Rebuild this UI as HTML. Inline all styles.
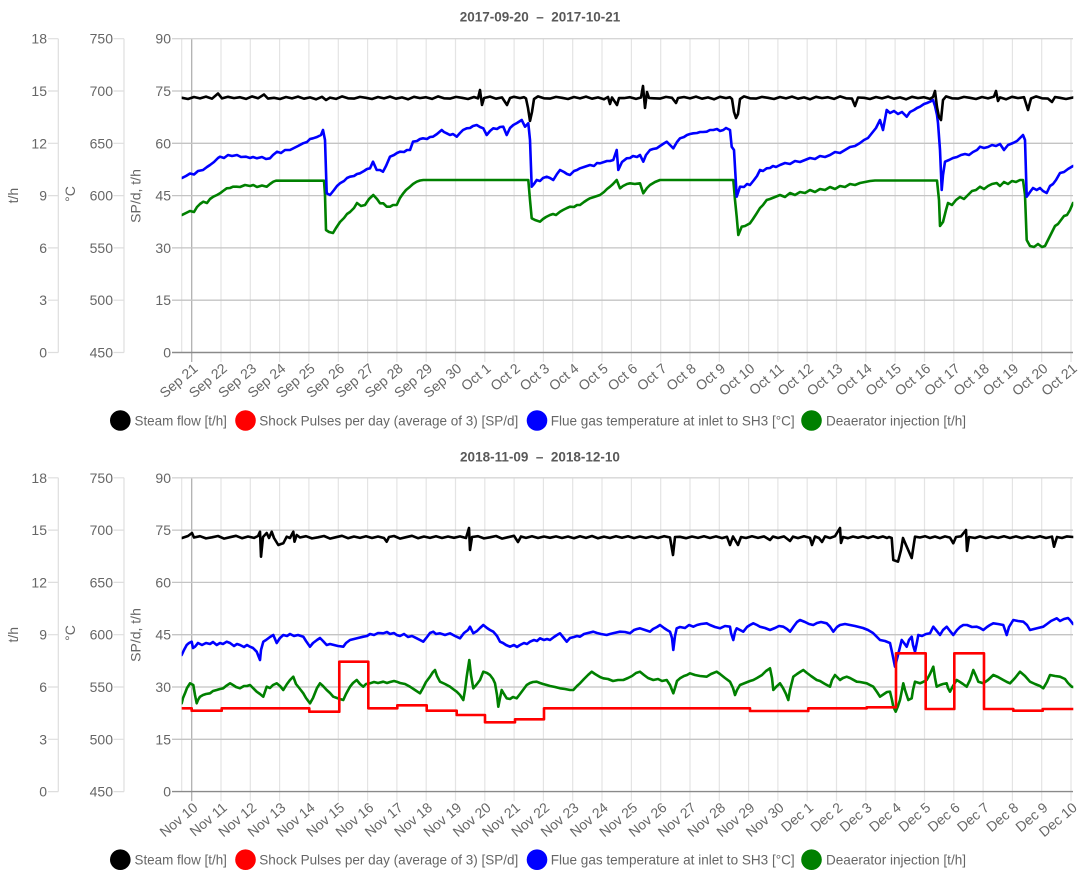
<!DOCTYPE html>
<html><head><meta charset="utf-8"><style>
html,body{margin:0;padding:0;background:#fff;}
svg{display:block;font-family:"Liberation Sans",Arial,sans-serif;}
.yl{font-size:14px;fill:#666;text-anchor:end;}
.xl{font-size:14px;fill:#666;text-anchor:end;}
.at{font-size:14px;fill:#666;text-anchor:middle;}
.lg{font-size:14px;fill:#666;}
.ti{font-size:13.5px;font-weight:bold;fill:#595959;text-anchor:middle;}
.s{fill:none;stroke-width:2.6;stroke-linejoin:round;stroke-linecap:round;}
</style></head><body>
<svg width="1080" height="878" viewBox="0 0 1080 878" xmlns="http://www.w3.org/2000/svg">
<defs>
<g id="grid">
  <line x1="58.3" y1="38.7" x2="58.3" y2="352.5" stroke="#dedede" stroke-width="1.2"/>
  <line x1="124" y1="38.7" x2="124" y2="352.5" stroke="#dedede" stroke-width="1.2"/>
  <path d="M48 38.7H58.3M48 91H58.3M48 143.3H58.3M48 195.6H58.3M48 247.9H58.3M48 300.2H58.3M48 352.5H58.3M113.5 38.7H124M113.5 91H124M113.5 143.3H124M113.5 195.6H124M113.5 247.9H124M113.5 300.2H124M113.5 352.5H124" stroke="#dedede" stroke-width="1.2"/>
  <path d="M181.7 38.7V352.5M221 38.7V362M250.3 38.7V362M279.6 38.7V362M308.9 38.7V362M338.3 38.7V362M367.6 38.7V362M396.9 38.7V362M426.2 38.7V362M455.5 38.7V362M484.8 38.7V362M514.1 38.7V362M543.4 38.7V362M572.7 38.7V362M602 38.7V362M631.4 38.7V362M660.7 38.7V362M690 38.7V362M719.3 38.7V362M748.6 38.7V362M777.9 38.7V362M807.2 38.7V362M836.5 38.7V362M865.8 38.7V362M895.1 38.7V362M924.5 38.7V362M953.8 38.7V362M983.1 38.7V362M1012.4 38.7V362M1041.7 38.7V362M1071 38.7V362" stroke="#e4e4e4" stroke-width="1.2"/>
  <line x1="191.7" y1="38.7" x2="191.7" y2="362" stroke="#b0b0b0" stroke-width="1.3"/>
  <line x1="172" y1="38.7" x2="1073" y2="38.7" stroke="#d6d6d6" stroke-width="1.3"/>
  <path d="M172 91H1073M172 143.3H1073M172 195.6H1073M172 247.9H1073M172 300.2H1073" stroke="#c4c4c4" stroke-width="1.3"/>
  <line x1="172" y1="352.5" x2="1073" y2="352.5" stroke="#8a8a8a" stroke-width="1.4"/>
</g>
<clipPath id="cp"><rect x="181.7" y="30" width="891.6" height="340"/></clipPath>
<clipPath id="cp2"><rect x="181.7" y="469" width="891.6" height="340"/></clipPath>
</defs>

<!-- ================= TOP CHART ================= -->
<text class="ti" x="540" y="21.5" xml:space="preserve">2017-09-20  –  2017-10-21</text>
<use href="#grid"/>

<g class="yl">
<text x="47" y="43.7">18</text><text x="47" y="96">15</text><text x="47" y="148.3">12</text><text x="47" y="200.6">9</text><text x="47" y="252.9">6</text><text x="47" y="305.2">3</text><text x="47" y="357.5">0</text>
<text x="113" y="43.7">750</text><text x="113" y="96">700</text><text x="113" y="148.3">650</text><text x="113" y="200.6">600</text><text x="113" y="252.9">550</text><text x="113" y="305.2">500</text><text x="113" y="357.5">450</text>
<text x="171" y="43.7">90</text><text x="171" y="96">75</text><text x="171" y="148.3">60</text><text x="171" y="200.6">45</text><text x="171" y="252.9">30</text><text x="171" y="305.2">15</text><text x="171" y="357.5">0</text>
</g>
<text class="at" transform="translate(18,195.6) rotate(-90)">t/h</text>
<text class="at" transform="translate(75,194) rotate(-90)">°C</text>
<text class="at" transform="translate(140.5,196) rotate(-90)">SP/d, t/h</text>

<g class="xl">
<text transform="translate(198.7,370) rotate(-40)">Sep 21</text>
<text transform="translate(228,370) rotate(-40)">Sep 22</text>
<text transform="translate(257.3,370) rotate(-40)">Sep 23</text>
<text transform="translate(286.6,370) rotate(-40)">Sep 24</text>
<text transform="translate(315.9,370) rotate(-40)">Sep 25</text>
<text transform="translate(345.3,370) rotate(-40)">Sep 26</text>
<text transform="translate(374.6,370) rotate(-40)">Sep 27</text>
<text transform="translate(403.9,370) rotate(-40)">Sep 28</text>
<text transform="translate(433.2,370) rotate(-40)">Sep 29</text>
<text transform="translate(462.5,370) rotate(-40)">Sep 30</text>
<text transform="translate(491.8,370) rotate(-40)">Oct 1</text>
<text transform="translate(521.1,370) rotate(-40)">Oct 2</text>
<text transform="translate(550.4,370) rotate(-40)">Oct 3</text>
<text transform="translate(579.7,370) rotate(-40)">Oct 4</text>
<text transform="translate(609,370) rotate(-40)">Oct 5</text>
<text transform="translate(638.4,370) rotate(-40)">Oct 6</text>
<text transform="translate(667.7,370) rotate(-40)">Oct 7</text>
<text transform="translate(697,370) rotate(-40)">Oct 8</text>
<text transform="translate(726.3,370) rotate(-40)">Oct 9</text>
<text transform="translate(755.6,370) rotate(-40)">Oct 10</text>
<text transform="translate(784.9,370) rotate(-40)">Oct 11</text>
<text transform="translate(814.2,370) rotate(-40)">Oct 12</text>
<text transform="translate(843.5,370) rotate(-40)">Oct 13</text>
<text transform="translate(872.8,370) rotate(-40)">Oct 14</text>
<text transform="translate(902.1,370) rotate(-40)">Oct 15</text>
<text transform="translate(931.5,370) rotate(-40)">Oct 16</text>
<text transform="translate(960.8,370) rotate(-40)">Oct 17</text>
<text transform="translate(990.1,370) rotate(-40)">Oct 18</text>
<text transform="translate(1019.4,370) rotate(-40)">Oct 19</text>
<text transform="translate(1048.7,370) rotate(-40)">Oct 20</text>
<text transform="translate(1078,370) rotate(-40)">Oct 21</text>
</g>

<g clip-path="url(#cp)">
<polyline class="s" stroke="#008000" points="182,215 186,213 190,211 194,212 197,207 200,204 203.3,201.7 207,203 210,199 213.3,196.7 217,195 220,193.3 223,191 226.7,188.3 230,188 233,186.7 236.7,186.7 240,187 245,185 250,186 253.3,185 257,187 262,185.5 266.7,186.7 270,184 273.3,181.7 276,180.7 324,180.7 325,195 326,230 329,232 333,233 336,228 340,222 344,218 347,214 350,212 354,208 357,203 361,206 365,205 369,199 373.3,195 377,199 380,203.3 383.3,203.3 386.7,206.7 390,206.7 393,205 396.7,205 400,198 403.3,193.3 406,190 410,186.7 413,184 416.7,181.7 420,180.5 423.3,180 528.3,180 530,200 531.7,218.3 535,220 540,221.7 543,219 546,217 550,215 553,214 556,215 560,211.7 563,210 567,208 570,206.7 574,207 577,205 580,205 584,202 587,200 590,198.3 594,197 597,196 600,195 604,192 607,189 610,186.7 613,184 616.7,180 620,188.3 623,186 627,184 630,183.3 635,184 640,183.3 643.3,193.3 647,188 650,185 655,182 660,180 733.3,180 735,200 736.7,216.7 738.3,235 741.7,226.7 745,226 750,223.3 753,219 756.7,213.3 760,208 763,205 766.7,200 770,199 775,197 780,195 785,197 790,193 795,195 800,192 805,193 810,190 815,192 820,189 825,190 830,187 835,189 840,186 845,187 850,184 855,185 860,183 865,182 870,181 875,180.5 937,180.5 939,200 940,226 943,222 946,210 948,203 952,205 956,200 960,197 964,199 968,195 972,191 976,190 980,186.7 984,189 988,186 992,184 996.7,183 1000,186 1004,182 1008,184 1012,181 1016,182 1020,180 1023,180 1025,195 1026.7,240 1030,246 1034,247 1038,244 1042,247 1045,246 1049,238 1052,232 1055,226 1058,224 1061,220 1064,216 1067,215 1070,210 1073,203"/>
<polyline class="s" stroke="#0000ff" points="182,178 186,176 190,173.5 194,174.5 198,171 203,170 207,167 210,165 214,162 218,158 220,156.7 224,158 228,155 232,156 237,155 241,157 246,156.7 250,158 253,157 257,158.3 262,157 266,159 270,158.3 273,155 277,151.7 281,153 285,150 290,150 294,148 298,146 303,143.3 307,142 310,139 313,138.3 317,137 321,135 323,130 325,140 326.7,193.3 330,195 334,190 337,186 340,183.3 344,181 347,178 350,176.7 354,176 357,174 360,173.3 364,171 367,169 370,168.3 373,161.7 376.7,170 380,170 383,171.7 386,166 390,156.7 394,155 397,153 400,151.7 404,152 407,150 410,150 413,141.7 417,141 420,139 423,138.3 427,139 430,137 433,136.7 437,134 441.7,130 444,132 446.7,133.3 450,135 453,134 456.7,136.7 460,133 463,130 466.7,128.3 470,128 473,126 476.7,125 480,127 483.3,128.3 486.7,135 490,131 493.3,128.3 497,129 500,127 503.3,126.7 506.7,135 510,128 513.3,125 517,123 521.7,120 525,126.7 528.3,123.3 530,140 531.7,186.7 534,184 536.7,180 540,181 543,178 546.7,176.7 550,178 553.3,180 557,174 560,170 564,172 567,174 570,175 574,171 577,170 580,168.3 584,167 587,166 590,165 594,166 597,163 600,163.3 604,162 607,161 610,161 613.3,160 616.7,150 618.3,170 622,162 626.7,158.3 630,158 633,156 637,157 640,155 643.3,161.7 646,155 650,150 653,149 656.7,148.3 660,146 663,144 666.7,141.7 670,145 673.3,148.3 677,142 680,138.3 684,137 687,135 690,134 693.3,133.3 697,133 700,132 703,132 706.7,131.7 710,130 713.3,130 717,129 720,131 723.3,130 726,128 730,130 731.7,146.7 734,150 736.7,196.7 740,186.7 744,187 747,184 750,185 754,180 757,176 760,170 763,171 766.7,168.3 770,168 773,166 776,167 780,165 785,163 790,164 795,161 800,162 805,160 810,158 815,159 820,156 825,157 830,155 835,152 840,153 845,150 850,147 855,146 860,143 864,140 868,138 872,133 876,128 880,120 883,130 886.7,110 890,113 894,111 898,114 902,112 906.7,116.7 910,112 914,110 917,108 920,106.7 924,104 927,103 930,101.7 933,100 935,106 937,115 938,123 940,150 941.7,190 943,175 945,161.7 949,160 953,158 957,157 961,155 965,154 969,155 973,152 977,150 980,146.7 984,148 988,147 992,145 996,146 1000,144 1004,150 1008,145 1013,143 1017,141 1020,138 1023,135 1025,140 1026.7,196.7 1030,192 1033,188 1036.7,190 1040,188 1043,191 1046.7,193 1050,186 1053,184 1056,180 1060,173 1064,172 1068,169 1073,166"/>
<polyline class="s" stroke="#000000" points="182,97.8 188,99 194,97 200,98.4 206,96.6 212,98.7 218,93.5 222,98.4 228,96.8 234,98.1 240,97.2 246,98.9 252,96.4 258,98.3 264,94.5 268,98.6 274,97.8 280,99 286,97 292,98.4 298,96.6 304,98.7 310,97.4 316,99.3 322,96.8 326,100 330,97.6 336,98.9 342,96.4 348,98.3 354,98.6 360,96.9 366,97.8 372,99 378,97 384,98.4 390,96.6 396,98.7 402,97.4 408,99.3 414,96.8 420,98.1 426,97.2 432,98.9 438,96.4 444,98.3 450,98.6 456,96.9 462,97.8 468,99 474,97 478,98.4 480,90 482,105 484,98 490,96.6 496,98.7 502,97.4 507,105 510,98 514,96.8 520,98.1 524,97.2 526,98.5 528,108 530,121 532,112 534,99 538,96.4 544,98.3 550,98.6 556,96.9 562,97.8 568,99 574,97 580,98.4 586,96.6 592,98.7 598,97.4 604,99.3 608,97 610,104 612,97.5 617,105 619,98 624,98.1 630,97.2 636,98.9 641,97.5 643,86 645,108 647,92 649,98 654,98.3 660,98.6 666,96.9 672,97.8 676,103 678,98 684,97 690,98.4 696,96.6 702,98.7 708,97.4 714,99.3 720,96.8 726,98.1 730,97.2 732,99 734,112 736,118 738,114 740,99 744,96.4 750,98.3 756,98.6 762,96.9 768,97.8 774,99 780,97 786,98.4 792,96.6 798,98.7 804,97.4 810,99.3 816,96.8 822,98.1 828,97.2 834,98.9 840,96.4 846,98.3 852,98.6 855,106 858,97.5 864,97.8 870,99 876,97 882,98.4 888,96.6 894,98.7 900,97.4 906,99.3 912,96.8 918,98.1 924,97.2 930,98.9 933,97 935,91 937,107 939,117 941,120 943,100 946,96.4 952,98.3 958,98.6 964,96.9 970,97.8 976,99 982,97 988,98.4 994,96.6 996,91 998,101 1000,97.4 1006,99.3 1012,96.8 1018,98.1 1024,97.2 1028,110 1031,98.5 1036,96.4 1042,98.3 1048,98.6 1052,102 1055,97 1060,97.8 1066,99 1073,97.5"/>
</g>

<!-- top legend -->
<circle cx="120.3" cy="420.5" r="10.3" fill="#000"/>
<text class="lg" x="134.5" y="425.5" textLength="92.4" lengthAdjust="spacingAndGlyphs">Steam flow [t/h]</text>
<circle cx="245.5" cy="420.5" r="10.3" fill="#ff0000"/>
<text class="lg" x="259.3" y="425.5" textLength="259" lengthAdjust="spacingAndGlyphs">Shock Pulses per day (average of 3) [SP/d]</text>
<circle cx="537" cy="420.5" r="10.3" fill="#0000ff"/>
<text class="lg" x="550.7" y="425.5" textLength="244" lengthAdjust="spacingAndGlyphs">Flue gas temperature at inlet to SH3 [°C]</text>
<circle cx="811.5" cy="420.5" r="10.3" fill="#008000"/>
<text class="lg" x="826" y="425.5" textLength="140" lengthAdjust="spacingAndGlyphs">Deaerator injection [t/h]</text>

<!-- ================= BOTTOM CHART ================= -->
<text class="ti" x="540" y="461.7" xml:space="preserve">2018-11-09  –  2018-12-10</text>
<use href="#grid" transform="translate(0,439.1)"/>

<g class="yl">
<text x="47" y="482.8">18</text><text x="47" y="535.1">15</text><text x="47" y="587.4">12</text><text x="47" y="639.7">9</text><text x="47" y="692">6</text><text x="47" y="744.3">3</text><text x="47" y="796.6">0</text>
<text x="113" y="482.8">750</text><text x="113" y="535.1">700</text><text x="113" y="587.4">650</text><text x="113" y="639.7">600</text><text x="113" y="692">550</text><text x="113" y="744.3">500</text><text x="113" y="796.6">450</text>
<text x="171" y="482.8">90</text><text x="171" y="535.1">75</text><text x="171" y="587.4">60</text><text x="171" y="639.7">45</text><text x="171" y="692">30</text><text x="171" y="744.3">15</text><text x="171" y="796.6">0</text>
</g>
<text class="at" transform="translate(18,634.7) rotate(-90)">t/h</text>
<text class="at" transform="translate(75,633) rotate(-90)">°C</text>
<text class="at" transform="translate(140.5,635) rotate(-90)">SP/d, t/h</text>

<g class="xl">
<text transform="translate(198.7,809.1) rotate(-40)">Nov 10</text>
<text transform="translate(228,809.1) rotate(-40)">Nov 11</text>
<text transform="translate(257.3,809.1) rotate(-40)">Nov 12</text>
<text transform="translate(286.6,809.1) rotate(-40)">Nov 13</text>
<text transform="translate(315.9,809.1) rotate(-40)">Nov 14</text>
<text transform="translate(345.3,809.1) rotate(-40)">Nov 15</text>
<text transform="translate(374.6,809.1) rotate(-40)">Nov 16</text>
<text transform="translate(403.9,809.1) rotate(-40)">Nov 17</text>
<text transform="translate(433.2,809.1) rotate(-40)">Nov 18</text>
<text transform="translate(462.5,809.1) rotate(-40)">Nov 19</text>
<text transform="translate(491.8,809.1) rotate(-40)">Nov 20</text>
<text transform="translate(521.1,809.1) rotate(-40)">Nov 21</text>
<text transform="translate(550.4,809.1) rotate(-40)">Nov 22</text>
<text transform="translate(579.7,809.1) rotate(-40)">Nov 23</text>
<text transform="translate(609,809.1) rotate(-40)">Nov 24</text>
<text transform="translate(638.4,809.1) rotate(-40)">Nov 25</text>
<text transform="translate(667.7,809.1) rotate(-40)">Nov 26</text>
<text transform="translate(697,809.1) rotate(-40)">Nov 27</text>
<text transform="translate(726.3,809.1) rotate(-40)">Nov 28</text>
<text transform="translate(755.6,809.1) rotate(-40)">Nov 29</text>
<text transform="translate(784.9,809.1) rotate(-40)">Nov 30</text>
<text transform="translate(814.2,809.1) rotate(-40)">Dec 1</text>
<text transform="translate(843.5,809.1) rotate(-40)">Dec 2</text>
<text transform="translate(872.8,809.1) rotate(-40)">Dec 3</text>
<text transform="translate(902.1,809.1) rotate(-40)">Dec 4</text>
<text transform="translate(931.5,809.1) rotate(-40)">Dec 5</text>
<text transform="translate(960.8,809.1) rotate(-40)">Dec 6</text>
<text transform="translate(990.1,809.1) rotate(-40)">Dec 7</text>
<text transform="translate(1019.4,809.1) rotate(-40)">Dec 8</text>
<text transform="translate(1048.7,809.1) rotate(-40)">Dec 9</text>
<text transform="translate(1078,809.1) rotate(-40)">Dec 10</text>
</g>

<g clip-path="url(#cp2)">
<polyline class="s" stroke="#008000" points="181.7,703.3 183,698 185,693.3 187,688 190,683.3 193.3,685 195,695 196.7,703.3 198,700 200,696.7 203,695 206,694 210,693.3 213,691 216.7,690 220,689 223.3,688.3 226,686 230,683.3 233,685 236,687 240,688.3 244,686 247,686 250,685 253,688 256.7,691.7 260,694 263.3,696.7 266.7,686.7 270,688 273,685 276.7,683.3 280,686 283.3,690 287,684 290,680 293.3,676.7 296,684 300,689 303.3,693.3 306,698 310,703.3 313,698 317,688 320,683.3 323,686 326.7,690 330,693 333.3,696.7 337,698 340,699 343.3,700 346,694 350,686.7 353,683 356.7,680 360,684 363.3,686.7 366,684 370,683.3 374,682 378,683 383.3,681.7 387,683 390,682 394,681 396.7,681.7 400,683 405,684 410,686.7 415,690 420,693.3 423,688 426,682 430,676.7 433,672 435,670 437,676 440,681.7 445,684 450,686.7 453,689 456.7,691.7 460,695 463.3,700 465,690 466.7,676.7 469.3,660 471,675 473.3,688.3 477,684 480,680 483.3,671.7 487,673 490,675 493,679 495,683.3 497,695 498.3,706.7 500,698 501.7,690 504,694 506.7,698.3 510,699 513,697 516.7,698.3 520,694 523,690 526.7,685 530,683 533,682 536.7,681.7 540,683 543,684 546.7,685 550,686 555,687 560,688.3 565,689 570,690 573.3,690 577,686 580,683.3 584,679 588,675 591.7,671.7 595,674 600,677 603.3,678.3 608,679 613,681 618,680 623.3,680 628,678 632,676 636,673 640,671.7 644,675 648,678 653.3,680 658,679 662,681 666.7,680 670,685 672,690 673.3,693.3 675,688 677,681 680,678.3 684,676 687,675 690,673.3 695,675 700,676 706.7,676.7 711,674 716.7,671.7 720,674 725,678 730,681.7 733,688 735,695 737,690 740,685 745,683 750,681 753.3,680 757,678 762,675 766,671 770,668.3 772,678 773.3,690 776,687 780,683.3 783,688 786,694 788.3,700 790,690 793.3,676.7 797,674 800,672 803.3,670 807,673 811,676 816.7,680 820,681 825,684 830,686.7 832,680 835,675 840,680 843,678 846.7,676.7 850,678 856.7,681.7 860,682 866.7,683.3 870,685 873.3,686.7 877,692 880,696.7 884,694 887,692 890,691.7 892,700 893.3,706.7 895.7,711.7 898,706 900,700 902,690 903.3,683.3 905,690 908.3,700 911.7,698.3 913,690 915,681.7 920,683.3 923,682 926.7,680 930,674 933.3,666.7 935,678 936.7,686.7 940,685 943,684 946.7,683.3 948,688 950,691.7 953,686 956.7,680 960,682 963,684 966.7,686.7 970,680 973.3,670 976,676 978.3,681.7 983.3,683.3 988,680 993.3,675 998,677 1003.3,680 1007,682 1010,683.3 1015,678 1020,671.7 1025,676 1030,681.7 1035,684 1040,686 1043.3,688.3 1047,682 1050,675 1055,676 1060,676.7 1065,679 1068,683 1071.7,686.7 1073,687"/>
<polyline class="s" stroke="#0000ff" points="181.7,655 184,650 186.7,645 189,643 191.7,641.7 193,648 195,646.7 198,643 202,645 206,643 210,644 213,642 216.7,645 220,643 223,644 226.7,641.7 230,643 234,646 237,644 240,645 244,647 247,645 250,646.7 253,648 256.7,651.7 258,655 260,660 261,650 263.3,641.7 266,640 270,637 273.3,635 276.7,643 280,638 283.3,635 287,636 290,634 294,636 298,635 303.3,636.7 306,641 310,646.7 313,643 317,640 320,638 323,641 326.7,645 330,644 334,645 338,646 343.3,646.7 346,643 350,640 354,639 358,638 363.3,636.7 367,636 370,634 374,635 378,633 383.3,633.3 387,632 390,634 394,633 396.7,635 400,636 404,634 408,637 412,636 416.7,638.3 420,640 423.3,641.7 427,637 430,633 433.3,631.7 436,634 440,633.3 445,635 450,633.3 455,636 460,638.3 464,633 468,630 470,626.7 473.3,633.3 477,631 480,628 483.3,625 487,628 490,630 493.3,631.7 497,636 500,641.7 503,643 506,645 510,646.7 514,645 517,647 520,645 524,643 527,644 530,641.7 534,640 537,641 540,638.3 544,640 547,639 550,640 554,637 557,635 560,633.3 563,637 566.7,641.7 570,638 574,637 577,636 580,636.7 584,634 588,633 593.3,631.7 597,633 601,634 606.7,635 610,634 614,633 620,631.7 625,632 630,633.3 634,630 637,629 640,628.3 645,630 650,631.7 653,629 657,627 660,625 664,628 667,630 670,631.7 672,638 673.3,650 675,636 676.7,628.3 680,627 685,628 689,625 693.3,626.7 697,625 701,624 706.7,623.3 710,625 715,627 720,628.3 725,626 730,626.7 731,633 733.3,640 735,632 736.7,628.3 740,630 743.3,631.7 747,627 750,625 753.3,623.3 757,625 760,626.7 765,628 770,630 775,628 779,626 783.3,626.7 787,629 790,631.7 794,626 797,622 800,620 805,622 809,624 813.3,625 817,623 821,622 826.7,623.3 830,626.7 833.3,631.7 837,627 840,625 845,624 850,625 855,626 859,627 863,628 868,630 873,633 877,637 880,640 885,641 890,643 892,652 895,666.7 898,655 901.7,640 904,643 906.7,646.7 909,640 911.7,636.7 913,645 915,651.7 917,642 918.3,635 922,636 926,634 930,633.3 933.3,626.7 936,630 940,635 943,630 946.7,626.7 950,631 953.3,635 957,630 960,627 963.3,625 967,625 972,627 976.7,626.7 980,628 983.3,630 987,627 990,625 993.3,623.3 998,624 1003.3,625 1005,630 1006.7,635 1009,627 1013.3,620 1018,621 1023.3,621.7 1027,625 1030,630 1034,629 1038,628 1043.3,626.7 1047,624 1051,621 1056.7,618.3 1060,621 1064,619 1068,618 1070,620 1073,624"/>
<polyline class="s" stroke="#ff0000" stroke-linejoin="miter" stroke-linecap="butt" points="181.7,708.3 191.7,708.3 191.7,710.7 221.7,710.7 221.7,708.3 309.3,708.3 309.3,711.7 339.3,711.7 339.3,661.7 368.3,661.7 368.3,708.3 397.3,708.3 397.3,705.3 426.7,705.3 426.7,710.7 456.7,710.7 456.7,715 485,715 485,722.3 515,722.3 515,719.3 544,719.3 544,708.3 750,708.3 750,711 808.3,711 808.3,708.3 866.7,708.3 866.7,707.3 896,707.3 896,653.3 925.7,653.3 925.7,709 954.3,709 954.3,653.3 984,653.3 984,709 1013.3,709 1013.3,710.7 1042.7,710.7 1042.7,709 1073,709"/>
<polyline class="s" stroke="#000000" points="182,538 188,536 192,533 194,537.5 200,536.2 206,538.4 212,537.3 218,536 224,538.6 230,537.2 236,535.8 242,538.2 248,536.5 254,537.9 258,536 260,531.7 261,556.7 263,537 266.7,533 269,538 271.7,531.7 274,538 278.3,545 281,544 283.3,543.3 286.7,536.7 290,538 293.3,531.7 294.5,541.7 296.7,535 300,537.5 306,536.2 312,538.4 318,537.3 324,536 330,538.6 336,537.2 342,535.8 348,538.2 354,536.5 360,537.9 366,536.2 372,538 378,536.5 384,538 386.7,541.7 389,537 394,536 400,538.6 406,537.2 412,535.8 418,538.2 424,536.5 430,537.9 436,536.2 442,538 448,536.5 454,537.8 460,536.4 466,538 469,528 470,550 472,537 478,536.2 484,538.4 490,537.3 496,536 502,538.6 508,537.2 514,535.8 518,542 521,536.5 526,537.9 532,536.2 538,538 544,536.5 550,537.8 556,536.4 562,538 568,536.5 574,538.2 580,536.3 586,537.9 592,536 598,538.3 604,536.6 610,538 616,536.2 622,537.8 628,536.3 634,538.1 640,536.5 646,537.9 652,536.4 658,538 664,536.2 670,537.5 673,555 675,537 680,536.8 686,538.2 692,536.5 698,537.9 704,536.3 710,538 716,536.4 722,538.1 727,536.8 730,545 733,536.5 738,545 741,537 746,538 752,536.3 758,537.9 764,536.4 770,540 773,536.5 778,538 784,536.4 790,541 793,536.6 798,538.1 804,536.3 810,537.9 812,545 815,536.5 819,538 822,542 825,536.4 830,538 835,536.2 840,528 841,543 843,537 848,538.2 853,536.5 858,537.8 863,536.4 868,538 873,536.3 878,537.9 883,536.4 887,538 889,537 891.7,538 893.3,560 898,561.7 901,550 903,538 906,545 911.7,558 915,536.7 920,537.5 925,536.2 930,538 935,536.5 940,538.2 945,536.4 950,537.6 953.3,543.3 956,537 961,536.3 966,530 967,551 969,537 975,538 980,536.4 986,538.1 992,536.5 998,537.9 1004,536.3 1010,538 1016,536.4 1022,538.1 1028,536.5 1034,537.9 1040,536.2 1046,538 1052,536.6 1054,546.7 1057,537 1062,538 1067,536.4 1073,537"/>
</g>

<!-- bottom legend -->
<circle cx="120.3" cy="859.7" r="10.3" fill="#000"/>
<text class="lg" x="134.5" y="864.7" textLength="92.4" lengthAdjust="spacingAndGlyphs">Steam flow [t/h]</text>
<circle cx="245.5" cy="859.7" r="10.3" fill="#ff0000"/>
<text class="lg" x="259.3" y="864.7" textLength="259" lengthAdjust="spacingAndGlyphs">Shock Pulses per day (average of 3) [SP/d]</text>
<circle cx="537" cy="859.7" r="10.3" fill="#0000ff"/>
<text class="lg" x="550.7" y="864.7" textLength="244" lengthAdjust="spacingAndGlyphs">Flue gas temperature at inlet to SH3 [°C]</text>
<circle cx="811.5" cy="859.7" r="10.3" fill="#008000"/>
<text class="lg" x="826" y="864.7" textLength="140" lengthAdjust="spacingAndGlyphs">Deaerator injection [t/h]</text>
</svg>
</body></html>
